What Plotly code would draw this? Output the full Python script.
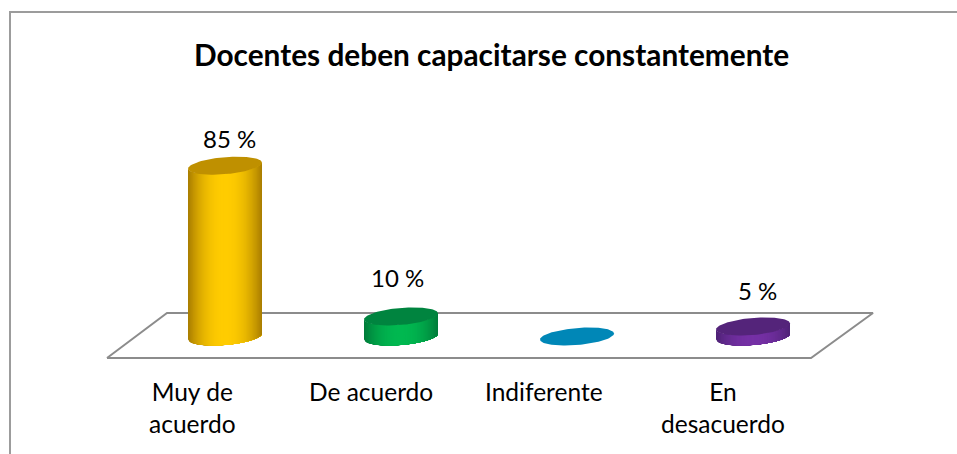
import numpy as np
import plotly.graph_objects as go

categories = ["Muy de<br>acuerdo", "De acuerdo", "Indiferente", "En<br>desacuerdo"]
values = [85, 10, 0, 5]
value_labels = ["85 %", "10 %", "", "5 %"]
body_center = ["#FFCC00", "#00B850", "#00B0F0", "#7530A5"]
body_edge = ["#A87C00", "#007A3A", "#0084B4", "#4E2275"]
top_colors = ["#BF9000", "#00843F", "#0087B7", "#54247A"]
title = "Docentes deben capacitarse constantemente"

W, H = 957, 454
# axis ranges chosen so that one category = 176 px, one percent = 2.01 px
PX_X, PX_Y = 176.0, 2.01
X_RANGE = [-225 / PX_X, (W - 225) / PX_X]
Y_RANGE = [(336.5 - H) / PX_Y, 336.5 / PX_Y]
A = 37 / PX_X          # half width of a cylinder in category units
B = 8.5 / PX_Y         # vertical half height of the ellipse
S = 3.0 / PX_Y         # tilt of the ellipse


def hex2rgb(c):
    return np.array([int(c[i:i + 2], 16) for i in (1, 3, 5)], dtype=float)


def mix(a, b, t):
    v = hex2rgb(a) * (1 - t) + hex2rgb(b) * t
    return "rgb(%d,%d,%d)" % tuple(v.round())


fig = go.Figure()


def poly(x, y, fill):
    fig.add_trace(go.Scatter(
        x=list(x), y=list(y), mode="lines", fill="toself", fillcolor=fill,
        line=dict(color=fill, width=0), hoverinfo="skip", showlegend=False))


# floor parallelogram
floor_x = np.array([(107 - 225), (811 - 225), (873 - 225), (167 - 225), (107 - 225)]) / PX_X
floor_y = np.array([336.5 - 358, 336.5 - 358, 336.5 - 313, 336.5 - 313, 336.5 - 358]) / PX_Y
fig.add_trace(go.Scatter(x=floor_x, y=floor_y, mode="lines",
                         line=dict(color="#8C8C8C", width=2), hoverinfo="skip", showlegend=False))

N = 60
for i, v in enumerate(values):
    if v > 0:
        # painter's order: each layer runs from its left edge to the right side
        fracs = np.linspace(-1, 1, N + 1)
        for k in range(N):
            t = np.arccos(np.linspace(fracs[k], 1, 40))
            xs = i + A * np.cos(t)
            low = -B * np.sin(t) + S * np.cos(t)
            px = list(xs) + list(xs[::-1])
            py = list(low) + list((low + v)[::-1])
            pos = abs((fracs[k] + fracs[k + 1]) / 2)
            poly(px, py, mix(body_center[i], body_edge[i], pos ** 2.2))
    t = np.linspace(0, 2 * np.pi, 120)
    poly(i + A * np.cos(t), v + B * np.sin(t) + S * np.cos(t), top_colors[i])

# value labels
label_dx = [4, -4, 0, 4]
label_gap = [13.5, 19.5, 0, 18]
for i, v in enumerate(values):
    if value_labels[i]:
        fig.add_annotation(x=i + label_dx[i] / PX_X, y=v + label_gap[i], text=value_labels[i],
                           showarrow=False, font=dict(family="Lato", size=24, color="#000000"),
                           xanchor="center", yanchor="middle")

# category labels
cat_dx = [-33, -30, -33, -30]
for i, c in enumerate(categories):
    fig.add_annotation(x=i + cat_dx[i] / PX_X, y=(336.5 - 374.5) / PX_Y, text=c, showarrow=False,
                       font=dict(family="Lato", size=24.5, color="#000000"),
                       xanchor="center", yanchor="top", align="center")

fig.add_annotation(x=491 / W, y=1 - 54 / H, xref="paper", yref="paper", text="<b>%s</b>" % title,
                   showarrow=False, font=dict(family="Lato", size=29.8, color="#000000"),
                   xanchor="center", yanchor="middle")

# chart frame: left and top edges only, the picture is cropped on the other sides
fig.add_shape(type="path", xref="paper", yref="paper",
              path=f"M {10/W} 0 L {10/W} {1-12/H} L 1 {1-12/H}",
              line=dict(color="#9C9C9C", width=2))

fig.update_layout(width=W, height=H, margin=dict(l=0, r=0, t=0, b=0),
                  paper_bgcolor="white", plot_bgcolor="white", showlegend=False,
                  xaxis=dict(range=X_RANGE, visible=False, fixedrange=True),
                  yaxis=dict(range=Y_RANGE, visible=False, fixedrange=True))
fig.write_html("out.html", config=dict(displayModeBar=False),
               post_script="document.body.style.margin='0';document.body.style.overflow='hidden';")
